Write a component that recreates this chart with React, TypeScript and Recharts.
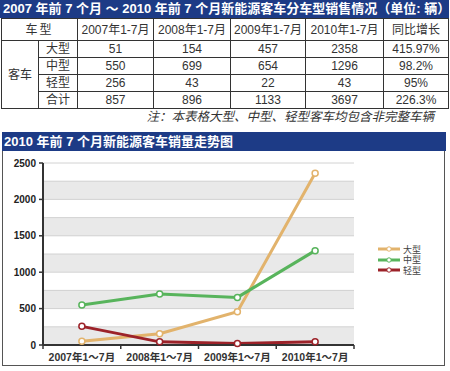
import { LineChart, Line, XAxis, YAxis, CartesianGrid, Legend } from "recharts"

const periods = ["2007年1～7月", "2008年1～7月", "2009年1～7月", "2010年1～7月"]
const tableHeads = ["2007年1-7月", "2008年1-7月", "2009年1-7月", "2010年1-7月"]
const large = [51, 154, 457, 2358]
const medium = [550, 699, 654, 1296]
const light = [256, 43, 22, 43]
const total = [857, 896, 1133, 3697]
const growth = ["415.97%", "98.2%", "95%", "226.3%"]
const yTicks = [0, 500, 1000, 1500, 2000, 2500]
const gridValues = [0, 250, 500, 750, 1000, 1250, 1500, 1750, 2000, 2250, 2500]

const chartData = periods.map((period, i) => ({
  period,
  large: large[i],
  medium: medium[i],
  light: light[i],
}))

const series = [
  { key: "large", name: "大型", color: "#e2b36c" },
  { key: "medium", name: "中型", color: "#58b45c" },
  { key: "light", name: "轻型", color: "#9c2229" },
]

const tableRows = [
  { name: "大型", values: large, growth: growth[0] },
  { name: "中型", values: medium, growth: growth[1] },
  { name: "轻型", values: light, growth: growth[2] },
  { name: "合计", values: total, growth: growth[3] },
]

const NAVY = "#1d3b86"
const FONT = '"Liberation Sans", "Noto Sans CJK SC", sans-serif'

const cell = {
  border: "1px solid #333",
  textAlign: "center" as const,
  padding: 0,
  fontSize: 12,
  color: "#333",
  lineHeight: "14px",
}

function PeriodTick(props: any) {
  const { x, y, payload, index, visibleTicksCount } = props
  const half = payload.offset || 0
  return (
    <g>
      <line x1={x - half} x2={x - half} y1={y - 8} y2={y - 4} stroke="#333" strokeWidth={1.5} />
      {index === visibleTicksCount - 1 && (
        <line x1={x + half} x2={x + half} y1={y - 8} y2={y - 4} stroke="#333" strokeWidth={1.5} />
      )}
      <text x={x} y={y} dy={8} textAnchor="middle" fontSize={10.5} fontWeight="bold" fill="#333">
        {payload.value}
      </text>
    </g>
  )
}

// keep legend rows in the same order as the series list
function SeriesLegend({ payload }: any) {
  const items = series
    .map((s) => (payload || []).find((p: any) => p.dataKey === s.key))
    .filter(Boolean)
  return (
    <div>
      {items.map((item: any) => (
        <div key={item.value} style={{ display: "flex", alignItems: "center", height: 10.5 }}>
          <svg width={22} height={6}>
            <line x1={0} y1={3} x2={22} y2={3} stroke={item.color} strokeWidth={3} />
            <circle cx={11} cy={3} r={2.2} fill="#fff" stroke={item.color} strokeWidth={1} />
          </svg>
          <span style={{ marginLeft: 3, fontSize: 9, color: "#444", fontFamily: FONT }}>{item.value}</span>
        </div>
      ))}
    </div>
  )
}

export default function App() {
  return (
    <div style={{ position: "absolute", left: 0, top: 0, width: 450, height: 371, background: "#fff", fontFamily: FONT }}>
      <div
        style={{
          position: "absolute", left: 0, top: 0, width: 449, height: 18, background: NAVY,
          color: "#fff", fontWeight: "bold", fontSize: 13, lineHeight: "18px", paddingLeft: 3, boxSizing: "border-box", whiteSpace: "nowrap",
        }}
      >
        2007 年前 7 个月 ～ 2010 年前 7 个月新能源客车分车型销售情况（单位: 辆）
      </div>

      <table style={{ position: "absolute", left: 1, top: 18, width: 447, borderCollapse: "collapse", tableLayout: "fixed" }}>
        <colgroup>
          {[37, 39, 76, 77, 75, 78, 65].map((w, i) => (
            <col key={i} style={{ width: w }} />
          ))}
        </colgroup>
        <tbody>
          <tr style={{ height: 22 }}>
            <td colSpan={2} style={{ ...cell, letterSpacing: 2 }}>车型</td>
            {tableHeads.map((h) => (
              <td key={h} style={cell}>{h}</td>
            ))}
            <td style={cell}>同比增长</td>
          </tr>
          {tableRows.map((row, r) => (
            <tr key={row.name} style={{ height: 17 }}>
              {r === 0 && <td rowSpan={4} style={cell}>客车</td>}
              <td style={cell}>{row.name}</td>
              {row.values.map((v, i) => (
                <td key={i} style={cell}>{v}</td>
              ))}
              <td style={cell}>{row.growth}</td>
            </tr>
          ))}
        </tbody>
      </table>

      <div
        style={{
          position: "absolute", right: 16, top: 110, fontSize: 12.5, color: "#333", lineHeight: "14px", whiteSpace: "nowrap", fontStyle: "italic",
        }}
      >
        注：本表格大型、中型、轻型客车均包含非完整车辆
      </div>

      <div
        style={{
          position: "absolute", left: 2, top: 132, width: 444, height: 19, background: NAVY,
          color: "#fff", fontWeight: "bold", fontSize: 13, lineHeight: "19px", paddingLeft: 2, boxSizing: "border-box", whiteSpace: "nowrap",
        }}
      >
        2010 年前 7 个月新能源客车销量走势图
      </div>

      <div
        style={{
          position: "absolute", left: 2, top: 151, width: 441, height: 214,
          borderLeft: "1px solid #555", borderRight: "1px solid #555", borderBottom: "1px solid #555",
        }}
      >
        <LineChart width={441} height={214} data={chartData} margin={{ top: 12, right: 90, left: 4, bottom: 0 }} style={{ fontFamily: FONT }}>
          <CartesianGrid
            vertical={false}
            horizontalValues={gridValues}
            horizontalFill={["#ffffff", "#e9e9e9"]}
            stroke="#d2d2d2"
          />
          <XAxis
            dataKey="period"
            scale="band"
            height={20}
            interval={0}
            tickSize={4}
            tickMargin={4}
            tickLine={false}
            axisLine={{ stroke: "#333", strokeWidth: 2 }}
            tick={<PeriodTick />}
          />
          <YAxis
            domain={[0, 2500]}
            ticks={yTicks}
            interval={0}
            width={36}
            tickSize={4}
            tickMargin={3}
            axisLine={{ stroke: "#333", strokeWidth: 2 }}
            tickLine={{ stroke: "#333", strokeWidth: 1.5 }}
            tick={{ fontSize: 10, fontWeight: "bold", fill: "#222" }}
          />
          <Legend
            layout="vertical"
            align="center"
            verticalAlign="middle"
            wrapperStyle={{ left: 375, top: 93, width: "auto" }}
            content={<SeriesLegend />}
          />
          {series.map((s) => (
            <Line
              key={s.key}
              type="linear"
              dataKey={s.key}
              name={s.name}
              stroke={s.color}
              strokeWidth={3}
              dot={{ r: 3, fill: "#fff", stroke: s.color, strokeWidth: 1.5 }}
              isAnimationActive={false}
            />
          ))}
        </LineChart>
      </div>
    </div>
  )
}
